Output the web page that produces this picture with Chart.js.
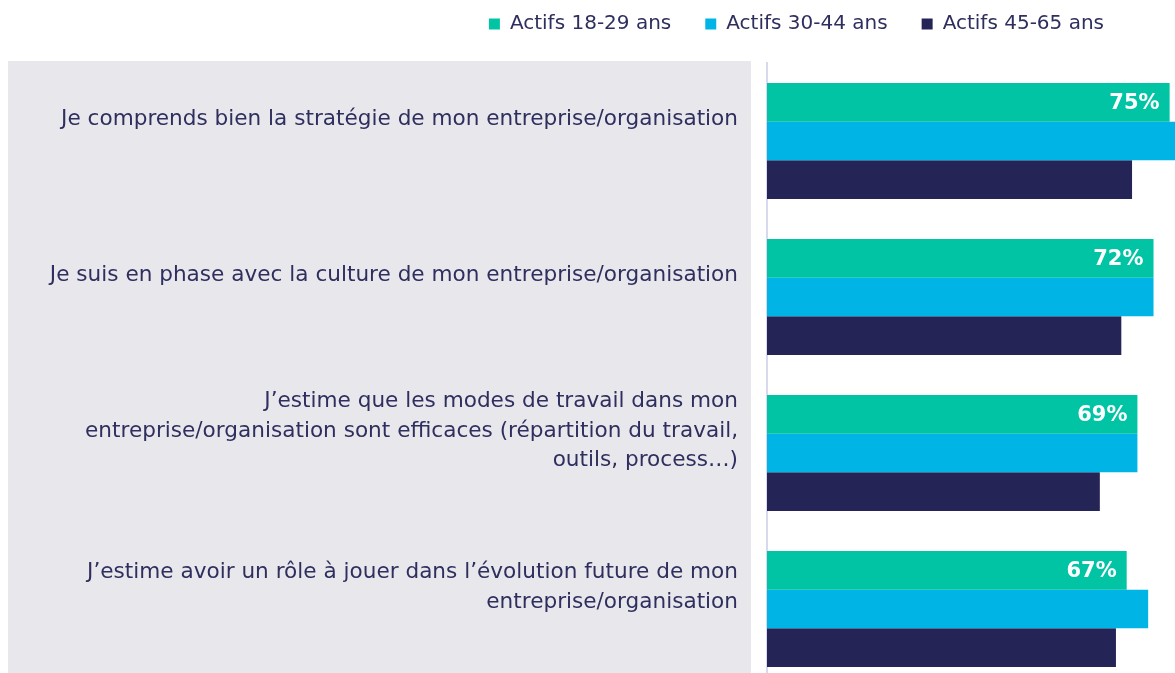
<!DOCTYPE html>
<html>
<head>
<meta charset="utf-8">
<script src="https://cdn.jsdelivr.net/npm/chart.js@4"></script>
<style>
  html, body { margin: 0; padding: 0; background: #fff; overflow: hidden; }
</style>
</head>
<body>
<canvas id="chart" width="1175" height="690"></canvas>
<script>
const categories = [
    ["Je comprends bien la stratégie de mon entreprise/organisation"],
    ["Je suis en phase avec la culture de mon entreprise/organisation"],
    ["J’estime que les modes de travail dans mon",
     "entreprise/organisation sont efficaces (répartition du travail,",
     "outils, process…)"],
    ["J’estime avoir un rôle à jouer dans l’évolution future de mon",
     "entreprise/organisation"]
];

const seriesNames = ["Actifs 18-29 ans", "Actifs 30-44 ans", "Actifs 45-65 ans"];
const actifs1829 = [75, 72, 69, 67];
const actifs3044 = [77, 72, 69, 71];
const actifs4565 = [68, 66, 62, 65];

const colors = ["#01C4A5", "#00B5E5", "#252456"];
const textColor = "#2F2F5F";
const fontFamily = "'DejaVu Sans', sans-serif";

// grey panel behind the category labels + legend placement
const panel = {
    id: "panel",
    beforeDraw(chart) {
        const c = chart.ctx;
        c.save();
        c.fillStyle = "#E8E8EC";
        c.fillRect(8, 61, 743, chart.height - 61);
        c.restore();

        // move the legend row so it ends around x=1103, like the original
        const lg = chart.legend;
        const pad = lg.options.labels.padding;
        const fs = lg.options.labels.font.size;
        lg.right = 1104 + pad;
        lg.top = 24 - pad - fs / 2;
    }
};

// percentage on the first series only
const valueLabels = {
    id: "valueLabels",
    afterDatasetsDraw(chart) {
        const c = chart.ctx;
        const meta = chart.getDatasetMeta(0);
        c.save();
        c.fillStyle = "#ffffff";
        c.font = "bold 21px " + fontFamily;
        c.textAlign = "right";
        c.textBaseline = "middle";
        meta.data.forEach((bar, i) => {
            c.fillText(actifs1829[i] + "%", bar.x - 10, bar.y + 1);
        });
        c.restore();
    }
};

const ctx = document.getElementById("chart");
new Chart(ctx, {
    type: "bar",
    data: {
        labels: categories,
        datasets: [
            { label: seriesNames[0], data: actifs1829, backgroundColor: colors[0] },
            { label: seriesNames[1], data: actifs3044, backgroundColor: colors[1] },
            { label: seriesNames[2], data: actifs4565, backgroundColor: colors[2] }
        ]
    },
    options: {
        indexAxis: "y",
        responsive: false,
        animation: false,
        categoryPercentage: 0.744,
        barPercentage: 1.0,
        layout: { padding: { top: 0, right: 0, bottom: 3, left: 0 } },
        scales: {
            x: {
                display: false,
                min: 0,
                max: 76
            },
            y: {
                grid: { display: false, drawTicks: false },
                border: { display: true, color: "#D9D9EE", width: 2 },
                ticks: {
                    color: textColor,
                    padding: 29,
                    labelOffset: -22,
                    font: { family: fontFamily, size: 21.6, lineHeight: 1.38 }
                },
                afterFit(scale) {
                    scale.width = 767;
                    scale.paddingTop = 0;
                    scale.paddingBottom = 0;
                }
            }
        },
        plugins: {
            tooltip: { enabled: false },
            legend: {
                position: "top",
                align: "end",
                maxHeight: 63,
                labels: {
                    color: textColor,
                    boxWidth: 11,
                    boxHeight: 11,
                    padding: 34,
                    font: { family: fontFamily, size: 20 }
                }
            }
        }
    },
    plugins: [panel, valueLabels]
});
</script>
</body>
</html>
